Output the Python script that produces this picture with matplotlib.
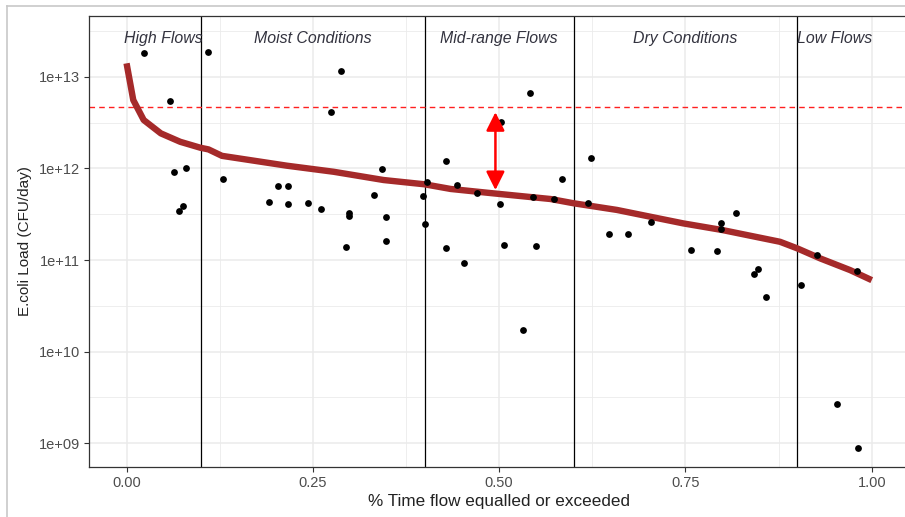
# load duration curve with observed e.coli loads

import math
import matplotlib
matplotlib.use('Agg')
from matplotlib import pyplot as plt
from matplotlib.lines import Line2D
from matplotlib.ticker import FixedLocator, FuncFormatter

plt.rcParams['font.family'] = ['Liberation Sans', 'DejaVu Sans']

# load duration curve (allowable load)
curve_x = [0.000, 0.009, 0.023, 0.046, 0.072, 0.099, 0.110, 0.128, 0.215,
           0.278, 0.345, 0.400, 0.435, 0.493, 0.569, 0.600, 0.658, 0.747,
           0.800, 0.877, 0.900, 0.931, 0.971, 1.000]
curve_y = [1.40e13, 5.57e12, 3.37e12, 2.41e12, 1.95e12, 1.68e12, 1.61e12,
           1.37e12, 1.07e12, 9.18e11, 7.46e11, 6.70e11, 5.96e11, 5.33e11,
           4.63e11, 4.16e11, 3.52e11, 2.51e11, 2.12e11, 1.58e11, 1.34e11,
           1.04e11, 7.76e10, 6.03e10]

# observed loads
obs_x = [0.024, 0.109, 0.288, 0.058, 0.275, 0.063, 0.080, 0.129, 0.070, 0.076,
         0.343, 0.429, 0.191, 0.203, 0.217, 0.217, 0.243, 0.261, 0.298, 0.298,
         0.332, 0.348, 0.348, 0.294, 0.403, 0.398, 0.401, 0.429, 0.542, 0.502,
         0.623, 0.443, 0.470, 0.585, 0.545, 0.573, 0.501, 0.619, 0.704, 0.648,
         0.673, 0.818, 0.798, 0.798, 0.506, 0.549, 0.758, 0.792, 0.927, 0.453,
         0.532, 0.842, 0.848, 0.858, 0.905, 0.980, 0.953, 0.981]
obs_y = [1.80e13, 1.85e13, 1.16e13, 5.43e12, 4.12e12, 9.2e11, 1.0e12, 7.66e11,
         3.45e11, 3.88e11, 9.84e11, 1.21e12, 4.30e11, 6.41e11, 6.41e11, 4.06e11,
         4.16e11, 3.57e11, 3.23e11, 3.02e11, 5.16e11, 2.97e11, 1.61e11, 1.38e11,
         7.14e11, 4.99e11, 2.47e11, 1.34e11, 6.68e12, 3.20e12, 1.29e12, 6.58e11,
         5.33e11, 7.66e11, 4.82e11, 4.67e11, 4.05e11, 4.16e11, 2.62e11, 1.92e11,
         1.92e11, 3.23e11, 2.55e11, 2.18e11, 1.46e11, 1.42e11, 1.29e11, 1.25e11,
         1.14e11, 9.27e10, 1.72e10, 7.03e10, 7.91e10, 3.92e10, 5.33e10, 7.64e10,
         2.67e9, 8.9e8]

# flow regimes
zone_breaks = [0.1, 0.4, 0.6, 0.9]
zone_names = ['High Flows', 'Moist Conditions', 'Mid-range Flows',
              'Dry Conditions', 'Low Flows']
zone_centers = [0.05, 0.25, 0.5, 0.75, 0.95]

target = 4.64e12
arrow_x = 0.495
arrow_y = [5.8e11, 4.1e12]

y_ticks = [1e9, 1e10, 1e11, 1e12, 1e13]
y_minor = [10 ** (e + 0.5) for e in range(8, 14)]
x_ticks = [0.0, 0.25, 0.5, 0.75, 1.0]
x_minor = [0.125, 0.375, 0.625, 0.875]

W, H = 905, 517
fig = plt.figure(figsize=(W / 100, H / 100), dpi=100)
ax = fig.add_axes([89.3 / W, (H - 467.3) / H, (909 - 89.3) / W, (467.3 - 15.7) / H])

ax.set_yscale('log')
ax.set_xlim(-0.05, 1.05)
ax.set_ylim(10 ** 8.738, 10 ** 13.666)

# grid like theme_bw
ax.xaxis.set_major_locator(FixedLocator(x_ticks))
ax.xaxis.set_minor_locator(FixedLocator(x_minor))
ax.yaxis.set_major_locator(FixedLocator(y_ticks))
ax.yaxis.set_minor_locator(FixedLocator(y_minor))
ax.yaxis.set_minor_formatter(FuncFormatter(lambda v, p: ''))
ax.xaxis.set_major_formatter(FuncFormatter(lambda v, p: '%.2f' % v))
ax.yaxis.set_major_formatter(FuncFormatter(lambda v, p: '1e+%02d' % round(math.log10(v))))
ax.grid(True, which='major', color='#ebebeb', lw=1.1)
ax.grid(True, which='minor', color='#ebebeb', lw=0.6)
ax.set_axisbelow(True)
ax.tick_params(which='major', length=3.5, width=0.8, color='#333333',
               labelsize=10.5, labelcolor='#4d4d4d', pad=3)
ax.tick_params(which='minor', length=0)
for s in ax.spines.values():
    s.set_color('#333333')
    s.set_linewidth(0.9)

for b in zone_breaks:
    ax.axvline(b, color='black', lw=0.9)

ax.axhline(target, color='#ff2020', lw=1.0, ls=(0, (4, 3)))

ax.plot(curve_x, curve_y, color='#a52a2a', lw=4.6, solid_capstyle='butt',
        solid_joinstyle='round', zorder=3)
ax.scatter(obs_x, obs_y, s=24, color='black', zorder=4, linewidths=0)

ax.annotate('', xy=(arrow_x, arrow_y[1]), xytext=(arrow_x, arrow_y[0]),
            arrowprops=dict(arrowstyle='<|-|>', color='red', lw=1.8,
                            mutation_scale=28, shrinkA=0, shrinkB=0),
            zorder=5)

for name, xc in zip(zone_names, zone_centers):
    ax.text(xc, 10 ** 13.42, name, ha='center', va='center', style='italic',
            fontsize=11.4, color='#33333f')

ax.set_xlabel('% Time flow equalled or exceeded', fontsize=12.3,
              color='#222222', labelpad=3)
ax.set_ylabel('E.coli Load (CFU/day)', fontsize=11, color='#222222',
              labelpad=5)

# screenshot border
fig.add_artist(Line2D([6.5 / W, 6.5 / W], [0, 1 - 6 / H], color='#c8c8c8', lw=1.2))
fig.add_artist(Line2D([6.5 / W, 1], [1 - 6 / H, 1 - 6 / H], color='#c8c8c8', lw=1.2))

fig.savefig('out.png', dpi=100)
